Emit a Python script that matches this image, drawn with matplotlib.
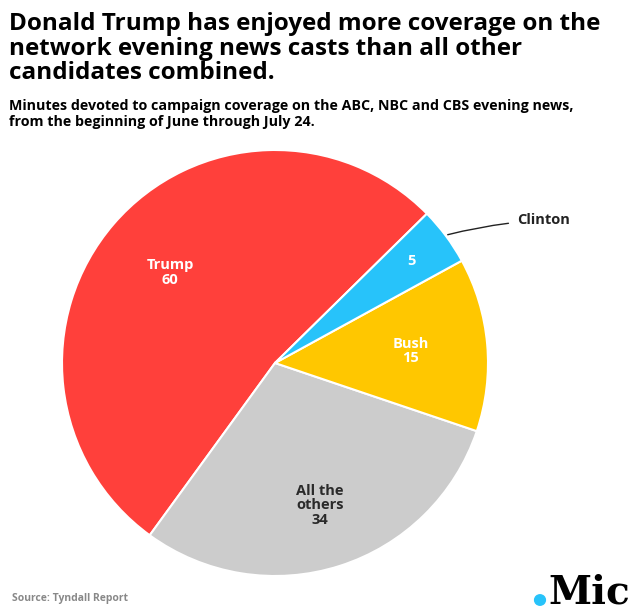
import numpy as np
import matplotlib
matplotlib.use('agg')
import matplotlib.pyplot as plt
from matplotlib.patches import Circle

# data
names = ['Trump', 'All the\nothers', 'Bush', 'Clinton']
minutes = [60, 34, 15, 5]
colors = ['#FF403B', '#CCCCCC', '#FFC700', '#27C3FA']
label_r = [0.65, 0.70, 0.64, 0.80]

FONT = 'Open Sans'

fig = plt.figure(figsize=(6.35, 6.15), dpi=100)
fig.patch.set_facecolor('white')

# pie axes: center ~(275, 363) px, radius ~213 px
ax = fig.add_axes([62 / 635, 39 / 615, 426 / 635, 426 / 615])
wedges, _ = ax.pie(minutes, colors=colors, startangle=44.5, counterclock=True,
                   radius=1, wedgeprops=dict(edgecolor='white', linewidth=1.5))
ax.set_xlim(-1, 1)
ax.set_ylim(-1, 1)
ax.set_aspect('equal')
ax.axis('off')

for w, name, val, r in zip(wedges, names, minutes, label_r):
    mid = np.deg2rad((w.theta1 + w.theta2) / 2)
    x, y = r * np.cos(mid), r * np.sin(mid)
    txt = str(val) if name == 'Clinton' else f'{name}\n{val}'
    col = '#2a2a2a' if name.startswith('All') else 'white'
    ax.text(x, y, txt, ha='center', va='center', color=col,
            fontsize=10.5, fontweight='bold', family=FONT, linespacing=1.05)

# Clinton callout
w = wedges[3]
mid = np.deg2rad((w.theta1 + w.theta2) / 2)
ax.annotate('Clinton', xy=(1.01 * np.cos(mid), 1.01 * np.sin(mid)),
            xytext=(1.135, 0.67), ha='left', va='center', fontsize=10.5,
            fontweight='bold', family=FONT, color='#222222',
            arrowprops=dict(arrowstyle='-', color='#222222', lw=1,
                            connectionstyle='arc3,rad=0.05', shrinkA=4, shrinkB=0),
            annotation_clip=False)

# titles
fig.text(9 / 635, 1 - 12 / 615,
         'Donald Trump has enjoyed more coverage on the\nnetwork evening news casts than all other\ncandidates combined.',
         ha='left', va='top', fontsize=17.5, fontweight='bold', family=FONT,
         linespacing=1.04, color='black')
fig.text(9 / 635, 1 - 99 / 615,
         'Minutes devoted to campaign coverage on the ABC, NBC and CBS evening news,\nfrom the beginning of June through July 24.',
         ha='left', va='top', fontsize=10.3, fontweight='bold', family=FONT,
         linespacing=1.2, color='black')

fig.text(12 / 635, 1 - 599 / 615, 'Source: Tyndall Report', ha='left', va='center',
         fontsize=7.5, fontweight='bold', family=FONT, color='#888888')

# Mic logo
fig.text(630 / 635, 1 - 603 / 615, 'Mic', ha='right', va='baseline', fontsize=28,
         fontweight='bold', family='DejaVu Serif', color='black')
fig.patches.append(Circle((540 / 635, 1 - 600 / 615), 0.0085, transform=fig.transFigure,
                          color='#27C3FA', figure=fig))

plt.savefig('out.png', dpi=100)
